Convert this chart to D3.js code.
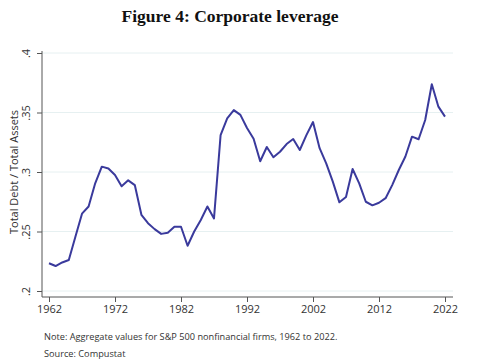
<!DOCTYPE html>
<html><head><meta charset="utf-8">
<script src="https://cdn.jsdelivr.net/npm/d3@7"></script>
<style>body{margin:0;background:#fff;} svg{display:block;}</style>
</head><body>
<script>
const years = d3.range(1962, 2023);
const leverage = [
 0.2233,0.221,0.224,0.226,0.2456,0.265,0.271,0.2905,0.3045,0.303,
 0.2975,0.288,0.293,0.289,0.264,0.257,0.252,0.248,0.249,0.254,
 0.254,0.238,0.250,0.2597,0.271,0.261,0.331,0.345,0.352,0.348,
 0.337,0.328,0.309,0.321,0.3124,0.317,0.3235,0.3277,0.3185,0.331,
 0.342,0.320,0.3073,0.2919,0.2745,0.279,0.3025,0.2905,0.275,0.272,
 0.2742,0.278,0.289,0.3017,0.313,0.3297,0.3275,0.3437,0.3737,0.3549,
 0.3465
];
const yTicks = [0.2,0.25,0.3,0.35,0.4];
const yTickLabels = [".2",".25",".3",".35",".4"];
const xTicks = [1962,1972,1982,1992,2002,2012,2022];
const titleText = "Figure 4: Corporate leverage";
const yLabel = "Total Debt / Total Assets";
const noteText = "Note: Aggregate values for S&P 500 nonfinancial firms, 1962 to 2022.";
const sourceText = "Source: Compustat";

const W = 485, H = 360;
const svg = d3.select("body").append("svg").attr("width", W).attr("height", H);

const x = d3.scaleLinear().domain([1962, 2022]).range([49, 445]);
const y = d3.scaleLinear().domain([0.2, 0.4]).range([291, 53]);
const axisLeftX = 42, axisBottomY = 297, plotRight = 453;

// title
svg.append("text").attr("x", 230).attr("y", 22).attr("text-anchor", "middle")
  .attr("font-family", "Liberation Serif, Times New Roman, serif").attr("font-weight", "bold")
  .attr("font-size", 17.5).attr("fill", "#111").text(titleText);

// gridlines
svg.append("g").selectAll("line").data(yTicks).join("line")
  .attr("x1", axisLeftX).attr("x2", plotRight)
  .attr("y1", d => y(d)).attr("y2", d => y(d))
  .attr("stroke", "#e6f0f1").attr("stroke-width", 1);

// y axis
const yAxis = svg.append("g").attr("transform", `translate(${axisLeftX},0)`)
  .call(d3.axisLeft(y).tickValues(yTicks).tickFormat((d,i) => yTickLabels[i]).tickSize(5).tickPadding(3));
yAxis.select(".domain").attr("stroke", "#555").attr("d", `M0,${y(0.2)+6}V${y(0.4)-2}`);
yAxis.selectAll(".tick line").attr("stroke", "#555");
yAxis.selectAll(".tick text")
  .attr("font-family", "Open Sans, Noto Sans, sans-serif").attr("font-size", 11).attr("fill", "#333")
  .attr("text-anchor", "middle").attr("x", null).attr("dy", null)
  .attr("transform", "translate(-12,0) rotate(-90)");

// x axis
const xAxis = svg.append("g").attr("transform", `translate(0,${axisBottomY})`)
  .call(d3.axisBottom(x).tickValues(xTicks).tickFormat(d3.format("d")).tickSize(5).tickPadding(3));
xAxis.select(".domain").attr("stroke", "#555").attr("d", `M${axisLeftX},0H${plotRight}`);
xAxis.selectAll(".tick line").attr("stroke", "#555");
xAxis.selectAll(".tick text")
  .attr("font-family", "Open Sans, Noto Sans, sans-serif").attr("font-size", 11).attr("fill", "#333");

// y label
svg.append("text").attr("transform", `translate(18,172) rotate(-90)`)
  .attr("text-anchor", "middle").attr("font-family", "Open Sans, Noto Sans, sans-serif")
  .attr("font-size", 11).attr("fill", "#333").text(yLabel);

// line
const line = d3.line().x((d,i) => x(years[i])).y(d => y(d));
svg.append("path").datum(leverage).attr("d", line)
  .attr("fill", "none").attr("stroke", "#3a3a9c").attr("stroke-width", 2)
  .attr("stroke-linejoin", "round");

// notes
svg.append("text").attr("x", 44).attr("y", 340)
  .attr("font-family", "Open Sans, Noto Sans, sans-serif").attr("font-size", 9.2).attr("fill", "#333").text(noteText);
svg.append("text").attr("x", 44).attr("y", 357)
  .attr("font-family", "Open Sans, Noto Sans, sans-serif").attr("font-size", 9.2).attr("fill", "#333").text(sourceText);
</script>
</body></html>
